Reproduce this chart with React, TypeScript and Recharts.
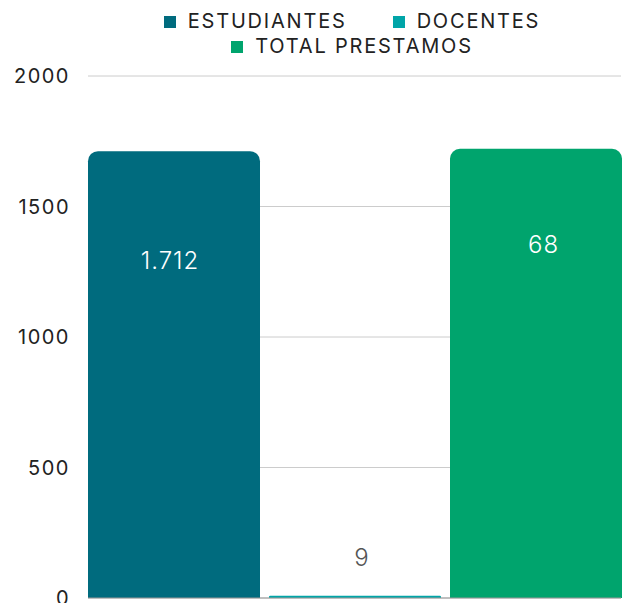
import React from 'react';
import { BarChart, Bar, XAxis, YAxis, CartesianGrid, Legend, LabelList } from 'recharts';

const categories = ['PRÉSTAMOS'];
const seriesNames = ['ESTUDIANTES', 'DOCENTES', 'TOTAL PRESTAMOS'];
const estudiantes = [1712];
const docentes = [9];
const totalPrestamos = [1721];
const dataLabels = ['1.712', '9', '68'];
const yTicks = [0, 500, 1000, 1500, 2000];

const seriesKeys = ['estudiantes', 'docentes', 'total'];
const colors = ['#006B7E', '#00A5A8', '#00A46D'];
const labelColors = ['#FFFFFF', '#555555', '#FFFFFF'];
const labelDy = [109.5, -38, 96];
const labelDx = [-4, 7, 7.5];

const data = categories.map((name, i) => ({
  name,
  estudiantes: estudiantes[i],
  docentes: docentes[i],
  total: totalPrestamos[i],
}));

const FONT = 'Inter, "Noto Sans", sans-serif';

const makeLabel = (idx: number) => (props: any) => {
  const { x, y, width } = props;
  return (
    <text
      x={Number(x) + Number(width) / 2 + labelDx[idx]}
      y={Number(y) + labelDy[idx]}
      textAnchor="middle"
      dominantBaseline="central"
      fill={labelColors[idx]}
      fontSize={24}
      fontWeight={300}
      letterSpacing={1}
      fontFamily={FONT}
    >
      {dataLabels[idx]}
    </text>
  );
};

const LegendContent = () => (
  <div
    style={{
      height: 68,
      paddingLeft: 83,
      paddingTop: 1,
      boxSizing: 'border-box',
      display: 'flex',
      justifyContent: 'center',
      alignItems: 'flex-start',
    }}
  >
    <div
      style={{
        display: 'flex',
        flexWrap: 'wrap',
        justifyContent: 'center',
        alignContent: 'flex-start',
        maxWidth: 440,
        columnGap: 46,
        fontFamily: FONT,
        fontSize: 20,
        letterSpacing: 1.8,
        lineHeight: '25px',
        color: '#222',
      }}
    >
      {seriesNames.map((n, i) => (
        <span key={n} style={{ display: 'inline-flex', alignItems: 'center', whiteSpace: 'nowrap', height: 25 }}>
          <span
            style={{
              display: 'inline-block',
              width: 12,
              height: 12,
              background: colors[i],
              marginRight: 12,
            }}
          />
          {n}
        </span>
      ))}
    </div>
  </div>
);

export default function App() {
  return (
    <div style={{ position: 'absolute', left: 0, top: 0, width: 627, height: 603, background: '#fff', overflow: 'hidden' }}>
      <BarChart
        width={627}
        height={603}
        data={data}
        margin={{ top: 8, right: 6, left: 0, bottom: 0 }}
        barCategoryGap={0}
        barGap={9}
      >
        <CartesianGrid vertical={false} stroke="#cccccc" />
        <XAxis dataKey="name" tick={false} height={5} axisLine={{ stroke: '#999999' }} tickLine={false} />
        <YAxis
          domain={[0, 2000]}
          ticks={yTicks}
          interval={0}
          width={88}
          axisLine={false}
          tickLine={false}
          tickSize={0}
          tickMargin={18}
          tick={{ fill: '#222222', fontSize: 20, letterSpacing: 1.5, fontFamily: FONT }}
        />
        <Legend verticalAlign="top" align="center" content={<LegendContent />} />
        {seriesKeys.map((k, i) => (
          <Bar
            key={k}
            dataKey={k}
            name={seriesNames[i]}
            fill={colors[i]}
            radius={[10, 10, 0, 0]}
            isAnimationActive={false}
          >
            <LabelList dataKey={k} content={makeLabel(i)} />
          </Bar>
        ))}
      </BarChart>
    </div>
  );
}
